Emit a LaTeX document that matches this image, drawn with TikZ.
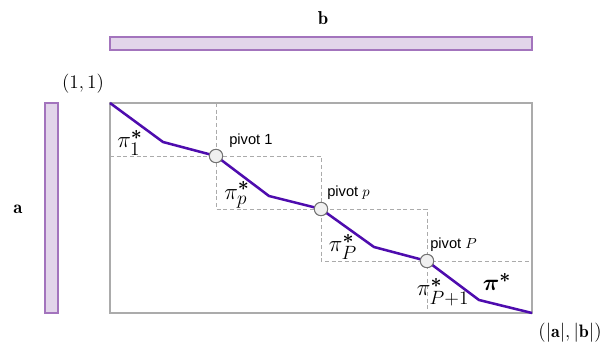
\documentclass[tikz,border=0pt]{standalone}
\usepackage{amsmath}
\usepackage{bm}
\usepackage{fontspec}
\newfontfamily\lsans{Liberation Sans}
\definecolor{barfill}{HTML}{E2D5EA}
\definecolor{bardraw}{HTML}{A374BD}
\definecolor{pathcol}{HTML}{4E0CAE}
\definecolor{boxgray}{HTML}{ABABAB}
\begin{document}
\begin{tikzpicture}[x=0.75pt,y=-0.75pt,
  bar/.style={fill=barfill,draw=bardraw,line width=0.8pt},
  frame/.style={draw=boxgray,line width=0.8pt},
  dashline/.style={draw=boxgray,line width=0.6pt,dash pattern=on 3pt off 2pt},
  optpath/.style={draw=pathcol,line width=1.9pt,line join=round},
  pivot/.style={circle,draw=gray!90!black,fill=gray!12,line width=0.7pt,minimum size=10pt,inner sep=0pt},
  pivlab/.style={anchor=west,font=\lsans\fontsize{11}{13}\selectfont,inner sep=0pt},
  mlab/.style={font=\fontsize{13.5}{16}\selectfont,inner sep=0pt},
  vlab/.style={font=\fontsize{14}{16}\selectfont,inner sep=0pt},
  pilab/.style={font=\fontsize{19}{22}\selectfont,inner sep=0pt}]
\useasboundingbox (0,0) rectangle (602,346);
% bars
\draw[bar] (110,37) rectangle (532,50);
\draw[bar] (45,103) rectangle (58,313);
\node[vlab] (lb) at (323,18) {$\mathbf{b}$};
\node[vlab] (la) at (18,209) {$\mathbf{a}$};
\node[mlab] (l11) at (83,84) {$(1,1)$};
\node[mlab] (lab) at (570,333) {$(|\mathbf{a}|,|\mathbf{b}|)$};
% dashed boxes
\draw[dashline] (110,156) -- (321,156) -- (321,261) -- (532,261);
\draw[dashline] (216,103) -- (216,209) -- (427,209) -- (427,313);
% frame
\draw[frame] (110,103) rectangle (532,313);
% coordinates
\coordinate (s) at (110,103);
\coordinate (k1) at (163,142);
\coordinate (k2) at (269,196);
\coordinate (k3) at (374,247);
\coordinate (k4) at (479,300);
\coordinate (e) at (532,313);
\node[pivot] (p1) at (216,156) {};
\node[pivot] (pp) at (321,209) {};
\node[pivot] (pP) at (427,261) {};
\draw[optpath] (s) -- (k1) -- (p1.center) -- (k2) -- (pp.center) -- (k3) -- (pP.center) -- (k4) -- (e);
\node[pivot] at (216,156) {};
\node[pivot] at (321,209) {};
\node[pivot] at (427,261) {};
% labels
\node[pivlab] (t1) at (229,141) {pivot 1};
\node[pivlab] (tp) at (327,193) {pivot $p$};
\node[pivlab] (tP) at (430,245) {pivot $P$};
\node[pilab] (pi1) at (130,143) {$\pi^{\bm{*}}_{1}$};
\node[pilab] (pip) at (237,195) {$\pi^{\bm{*}}_{p}$};
\node[pilab] (piP) at (343,247) {$\pi^{\bm{*}}_{P}$};
\node[pilab] (piP1) at (443,292) {$\pi^{\bm{*}}_{P+1}$};
\node[pilab] (pis) at (497,282) {$\bm{\pi^{*}}$};
\end{tikzpicture}
\end{document}
